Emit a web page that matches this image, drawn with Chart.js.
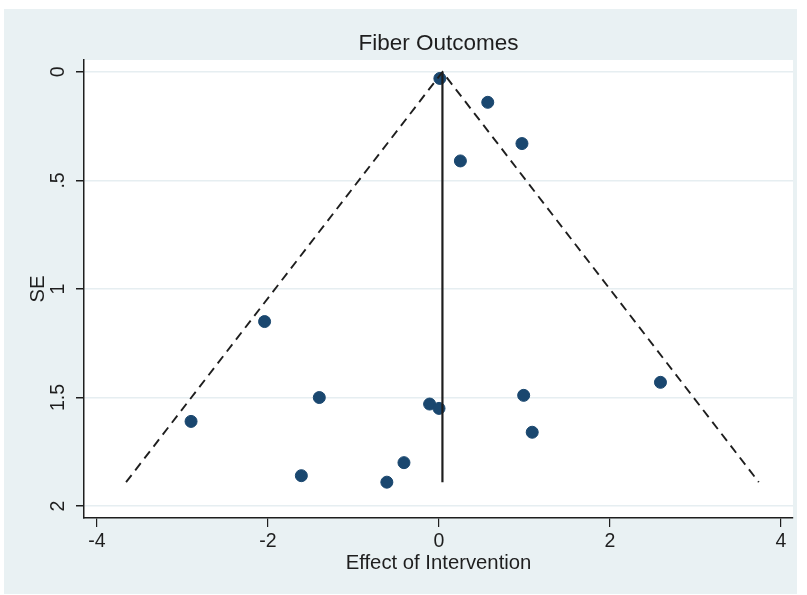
<!DOCTYPE html>
<html>
<head>
<meta charset="utf-8">
<title>Fiber Outcomes</title>
<script src="https://cdn.jsdelivr.net/npm/chart.js@4"></script>
<style>
  html, body { margin: 0; padding: 0; background: #ffffff; overflow: hidden; }
  canvas { display: block; }
</style>
</head>
<body>
<canvas id="funnel" width="807" height="595"></canvas>
<script>
// study estimates: effect size and its standard error
const effect = [0.01, 0.57, 0.97, 0.25, -2.04, -2.90, -1.40, -1.61, -0.61, -0.41, -0.11, 0.00, 0.99, 1.09, 2.59];
const stdErr = [0.03, 0.14, 0.33, 0.41, 1.15, 1.61, 1.50, 1.86, 1.89, 1.80, 1.53, 1.55, 1.49, 1.66, 1.43];

// pooled estimate and pseudo 95% confidence limits
const pooled = 0.04;
const seMax = 1.89;
const limitLeft = [-3.66, 0.04];
const limitRight = [3.74, 0.04];
const limitSE = [1.89, 0];

const xTicks = [-4, -2, 0, 2, 4];
const yTicks = [0, 0.5, 1, 1.5, 2];
const yTickLabels = ['0', '.5', '1', '1.5', '2'];

const font = 'Liberation Sans, Arial, sans-serif';

const panelBg = {
  id: 'panelBg',
  beforeDraw(chart) {
    const { ctx, chartArea: a } = chart;
    ctx.save();
    ctx.fillStyle = '#e9f1f3';
    ctx.fillRect(4, 9, 793, 585);
    ctx.fillStyle = '#ffffff';
    ctx.fillRect(a.left, a.top, a.right - a.left, a.bottom - a.top);
    ctx.restore();
  }
};

new Chart(document.getElementById('funnel'), {
  type: 'scatter',
  data: {
    datasets: [
      {
        data: [{ x: pooled, y: seMax }, { x: pooled, y: 0 }],
        showLine: true,
        borderColor: '#1e1e1e',
        borderWidth: 2.2,
        pointRadius: 0,
        order: 0
      },
      {
        data: [
          { x: limitLeft[0], y: limitSE[0] }, { x: limitLeft[1], y: limitSE[1] },
          { x: limitRight[0], y: limitSE[0] }
        ],
        showLine: true,
        borderColor: '#1e1e1e',
        borderWidth: 1.9,
        borderDash: [9, 6],
        pointRadius: 0,
        order: 1
      },
      {
        data: effect.map((x, i) => ({ x: x, y: stdErr[i] })),
        backgroundColor: '#1a476f',
        borderColor: '#1a476f',
        pointRadius: 6,
        order: 2
      }
    ]
  },
  options: {
    responsive: false,
    animation: false,
    devicePixelRatio: 1,
    layout: { padding: { left: 0, right: 14, top: 0, bottom: 0 } },
    plugins: {
      legend: { display: false },
      tooltip: { enabled: false },
      title: {
        display: true,
        text: 'Fiber Outcomes',
        fullSize: false,
        color: '#1e1e1e',
        font: { family: font, size: 22.5, weight: 'normal' },
        padding: { top: 30, bottom: 3 }
      }
    },
    scales: {
      x: {
        type: 'linear',
        min: -4.152,
        max: 4.14,
        afterBuildTicks: s => { s.ticks = xTicks.map(v => ({ value: v })); },
        afterFit: s => { s.height = 77; },
        grid: { color: 'transparent', tickColor: '#1e1e1e', tickLength: 9, lineWidth: 1.2 },
        border: { color: '#1e1e1e', width: 1.5 },
        ticks: {
          color: '#1e1e1e',
          font: { family: font, size: 19.5 },
          padding: 3,
          maxRotation: 0
        },
        title: {
          display: true,
          text: 'Effect of Intervention',
          color: '#1e1e1e',
          font: { family: font, size: 20.3 },
          padding: { top: 0, bottom: 19 }
        }
      },
      y: {
        type: 'linear',
        reverse: true,
        min: -0.055,
        max: 2.055,
        afterBuildTicks: s => { s.ticks = yTicks.map(v => ({ value: v })); },
        afterFit: s => { s.width = 84; },
        grid: { color: '#e6eef1', tickColor: '#1e1e1e', tickLength: 8, lineWidth: 1.5 },
        border: { color: '#1e1e1e', width: 1.5 },
        ticks: {
          color: '#1e1e1e',
          font: { family: font, size: 19.5 },
          minRotation: 90,
          maxRotation: 90,
          crossAlign: 'center',
          padding: 4,
          callback: (v, i) => yTickLabels[i]
        },
        title: {
          display: true,
          text: 'SE',
          color: '#1e1e1e',
          font: { family: font, size: 20.3 },
          padding: { top: 26, bottom: 0 }
        }
      }
    }
  },
  plugins: [panelBg]
});
</script>
</body>
</html>
